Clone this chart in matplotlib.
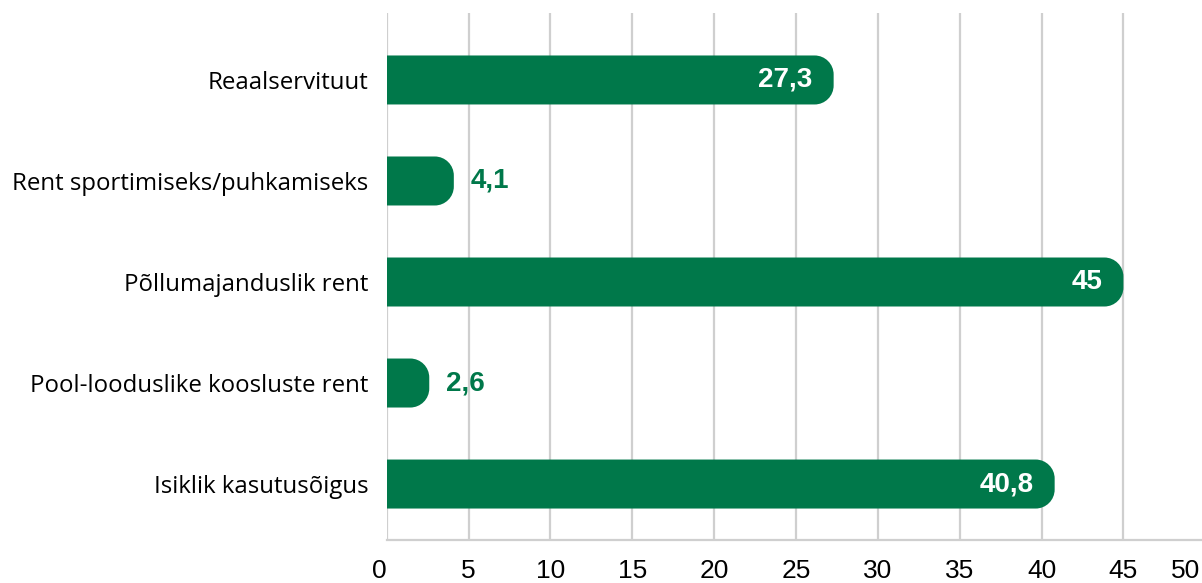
import matplotlib
matplotlib.use("Agg")
import matplotlib.pyplot as plt
from matplotlib.path import Path
from matplotlib.patches import PathPatch

CATEGORIES = [
    "Reaalservituut",
    "Rent sportimiseks/puhkamiseks",
    "Põllumajanduslik rent",
    "Pool-looduslike koosluste rent",
    "Isiklik kasutusõigus",
]
VALUES = [27.3, 4.1, 45, 2.6, 40.8]
VALUE_LABELS = ["27,3", "4,1", "45", "2,6", "40,8"]
X_TICKS = [0, 5, 10, 15, 20, 25, 30, 35, 40, 45]

GREEN = "#00784A"
GRID = "#cfcfcf"
W, H, DPI = 12.02, 5.83, 100

plt.rcParams["font.family"] = ["Liberation Sans", "DejaVu Sans"]

fig = plt.figure(figsize=(W, H), dpi=DPI)
ax_left, ax_right = 386.7 / 1202, 1.0
ax_bottom, ax_top = 1 - 540 / 583, 1 - 13 / 583
ax = fig.add_axes([ax_left, ax_bottom, ax_right - ax_left, ax_top - ax_bottom])

XMAX = 49.8
ax.set_xlim(0, XMAX)
ax.set_ylim(4.554, -0.663)

# pixel -> data conversion for the rounded corner radius
px_x = (ax_right - ax_left) * W * DPI / XMAX
px_y = (ax_top - ax_bottom) * H * DPI / (4.554 + 0.663)
radius = 19
bar_h = 0.485


def rounded_bar(y, value, h):
    rx = min(radius / px_x, value)
    ry = radius / px_y
    y0, y1 = y - h / 2, y + h / 2
    k = 0.5523
    verts = [
        (0, y0), (value - rx, y0),
        (value - rx + k * rx, y0), (value, y0 + ry - k * ry), (value, y0 + ry),
        (value, y1 - ry),
        (value, y1 - ry + k * ry), (value - rx + k * rx, y1), (value - rx, y1),
        (0, y1), (0, y0),
    ]
    codes = [Path.MOVETO, Path.LINETO,
             Path.CURVE4, Path.CURVE4, Path.CURVE4,
             Path.LINETO,
             Path.CURVE4, Path.CURVE4, Path.CURVE4,
             Path.LINETO, Path.CLOSEPOLY]
    return PathPatch(Path(verts, codes), facecolor=GREEN, edgecolor="none", zorder=3)


for i, (v, lab) in enumerate(zip(VALUES, VALUE_LABELS)):
    ax.add_patch(rounded_bar(i, v, bar_h))
    if v > 10:
        ax.annotate(lab, (v, i), xytext=(-21, 0), textcoords="offset pixels",
                    ha="right", va="center", color="white", fontsize=20,
                    fontweight="bold", zorder=4)
    else:
        ax.annotate(lab, (v, i), xytext=(17, 0), textcoords="offset pixels",
                    ha="left", va="center", color=GREEN, fontsize=20,
                    fontweight="bold", zorder=4)

for x in X_TICKS:
    ax.axvline(x, color=GRID, lw=1.6, zorder=1)

for s in ["top", "right", "left"]:
    ax.spines[s].set_visible(False)
ax.spines["bottom"].set_color(GRID)
ax.spines["bottom"].set_linewidth(1.6)

ax.set_yticks(range(len(CATEGORIES)))
ax.set_yticklabels(CATEGORIES, fontsize=17.3, family=["Open Sans", "DejaVu Sans"])
ax.set_xticks(X_TICKS)
ax.set_xticklabels([str(t) for t in X_TICKS], fontsize=19)
ax.get_xticklabels()[0].set_ha("right")
ax.tick_params(axis="x", length=0, pad=14)
ax.tick_params(axis="y", length=0, pad=13)
ax.annotate("50", (XMAX, 0), xycoords=("data", "axes fraction"),
            xytext=(-2, -19), textcoords="offset pixels",
            ha="right", va="top", fontsize=19)

fig.savefig("out.png", dpi=DPI)
